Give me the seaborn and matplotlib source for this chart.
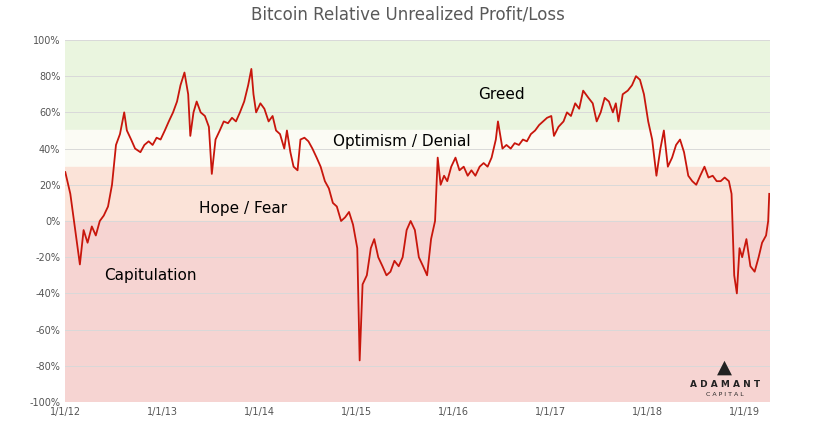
import pandas as pd
import matplotlib.pyplot as plt
import matplotlib.dates as mdates
import seaborn as sns

# semi-monthly readings (percent)
dates = pd.to_datetime([
    "2012-01-01", "2012-01-20", "2012-02-10", "2012-02-25", "2012-03-10", "2012-03-25", "2012-04-10", "2012-04-25",
    "2012-05-10", "2012-05-25", "2012-06-10", "2012-06-25", "2012-07-10", "2012-07-25", "2012-08-10", "2012-08-20",
    "2012-09-05", "2012-09-20", "2012-10-10", "2012-10-25", "2012-11-10", "2012-11-25", "2012-12-10", "2012-12-25",
    "2013-01-10", "2013-01-25", "2013-02-10", "2013-02-25", "2013-03-10", "2013-03-25", "2013-04-08", "2013-04-16",
    "2013-04-28", "2013-05-10", "2013-05-25", "2013-06-10", "2013-06-25", "2013-07-06", "2013-07-20", "2013-08-05",
    "2013-08-20", "2013-09-05", "2013-09-20", "2013-10-05", "2013-10-20", "2013-11-05", "2013-11-20", "2013-12-02",
    "2013-12-10", "2013-12-20", "2014-01-05", "2014-01-20", "2014-02-05", "2014-02-20", "2014-03-05", "2014-03-20",
    "2014-04-05", "2014-04-15", "2014-04-28", "2014-05-10", "2014-05-25", "2014-06-05", "2014-06-20", "2014-07-05",
    "2014-07-20", "2014-08-05", "2014-08-20", "2014-09-05", "2014-09-20", "2014-10-05", "2014-10-20", "2014-11-05",
    "2014-11-20", "2014-12-05", "2014-12-20", "2015-01-05", "2015-01-14", "2015-01-25", "2015-02-10", "2015-02-25",
    "2015-03-10", "2015-03-25", "2015-04-10", "2015-04-25", "2015-05-10", "2015-05-25", "2015-06-10", "2015-06-25",
    "2015-07-10", "2015-07-25", "2015-08-10", "2015-08-25", "2015-09-10", "2015-09-25", "2015-10-10", "2015-10-25",
    "2015-11-04", "2015-11-15", "2015-11-28", "2015-12-10", "2015-12-25", "2016-01-10", "2016-01-25", "2016-02-10",
    "2016-02-25", "2016-03-10", "2016-03-25", "2016-04-10", "2016-04-25", "2016-05-10", "2016-05-25", "2016-06-10",
    "2016-06-18", "2016-07-05", "2016-07-20", "2016-08-05", "2016-08-20", "2016-09-05", "2016-09-20", "2016-10-05",
    "2016-10-20", "2016-11-05", "2016-11-20", "2016-12-05", "2016-12-20", "2017-01-05", "2017-01-15", "2017-02-01",
    "2017-02-20", "2017-03-05", "2017-03-20", "2017-04-05", "2017-04-20", "2017-05-05", "2017-05-25", "2017-06-10",
    "2017-06-25", "2017-07-10", "2017-07-25", "2017-08-10", "2017-08-25", "2017-09-05", "2017-09-15", "2017-10-01",
    "2017-10-20", "2017-11-05", "2017-11-20", "2017-12-05", "2017-12-20", "2018-01-05", "2018-01-20", "2018-02-05",
    "2018-02-20", "2018-03-05", "2018-03-20", "2018-04-05", "2018-04-20", "2018-05-05", "2018-05-20", "2018-06-05",
    "2018-06-20", "2018-07-05", "2018-07-20", "2018-08-05", "2018-08-20", "2018-09-05", "2018-09-20", "2018-10-05",
    "2018-10-20", "2018-11-05", "2018-11-15", "2018-11-25", "2018-12-05", "2018-12-15", "2018-12-25", "2019-01-10",
    "2019-01-25", "2019-02-10", "2019-02-25", "2019-03-10", "2019-03-25", "2019-04-02", "2019-04-06",
])
values = [
    27, 15, -8, -24, -5, -12, -3, -8,
    0, 3, 8, 20, 42, 48, 60, 50,
    45, 40, 38, 42, 44, 42, 46, 45,
    50, 55, 60, 66, 75, 82, 70, 47,
    60, 66, 60, 58, 52, 26, 45, 50,
    55, 54, 57, 55, 60, 66, 75, 84,
    70, 60, 65, 62, 55, 58, 50, 48,
    40, 50, 38, 30, 28, 45, 46, 44,
    40, 35, 30, 22, 18, 10, 8, 0,
    2, 5, -2, -15, -77, -35, -30, -15,
    -10, -20, -25, -30, -28, -22, -25, -20,
    -5, 0, -5, -20, -25, -30, -10, 0,
    35, 20, 25, 22, 30, 35, 28, 30,
    25, 28, 25, 30, 32, 30, 35, 45,
    55, 40, 42, 40, 43, 42, 45, 44,
    48, 50, 53, 55, 57, 58, 47, 52,
    55, 60, 58, 65, 62, 72, 68, 65,
    55, 60, 68, 66, 60, 65, 55, 70,
    72, 75, 80, 78, 70, 55, 45, 25,
    40, 50, 30, 35, 42, 45, 38, 25,
    22, 20, 25, 30, 24, 25, 22, 22,
    24, 22, 15, -30, -40, -15, -20, -10,
    -25, -28, -20, -12, -8, 0, 15,
]
df = pd.DataFrame({"date": dates, "rupl": values})

fig = plt.figure(figsize=(8.16, 4.25), dpi=100)
ax = fig.add_axes([0.08, 0.054, 0.864, 0.852])

# sentiment zones
ax.axhspan(50, 100, color="#eaf5df", zorder=0)
ax.axhspan(30, 50, color="#fbfbf4", zorder=0)
ax.axhspan(0, 30, color="#fbe3d8", zorder=0)
ax.axhspan(-100, 0, color="#f6d4d2", zorder=0)

sns.lineplot(data=df, x="date", y="rupl", color="#c8160c", linewidth=1.3, ax=ax, zorder=3)

ax.set_ylim(-100, 100)
ax.set_yticks(range(-100, 101, 20))
ax.set_yticklabels([f"{v}%" for v in range(-100, 101, 20)], fontsize=7, color="#555555")
ax.set_xlim(pd.Timestamp("2012-01-01"), pd.Timestamp("2019-04-10"))
ticks = pd.to_datetime([f"{y}-01-01" for y in range(2012, 2020)])
ax.set_xticks(ticks)
ax.set_xticklabels([f"1/1/{y % 100}" for y in range(2012, 2020)], fontsize=7, color="#555555")
ax.grid(axis="y", color="#d9d9d9", linewidth=0.7, zorder=1)
ax.grid(axis="x", visible=False)
ax.set_axisbelow(False)
for s in ax.spines.values():
    s.set_visible(False)
ax.tick_params(length=0)
ax.set_xlabel("")
ax.set_ylabel("")

fs = 11
ax.text(pd.Timestamp("2016-07-01"), 70, "Greed", fontsize=fs, ha="center", va="center")
ax.text(pd.Timestamp("2015-06-20"), 44, "Optimism / Denial", fontsize=fs, ha="center", va="center")
ax.text(pd.Timestamp("2013-11-01"), 7, "Hope / Fear", fontsize=fs, ha="center", va="center")
ax.text(pd.Timestamp("2012-11-15"), -30, "Capitulation", fontsize=fs, ha="center", va="center")

fig.text(0.5, 0.965, "Bitcoin Relative Unrealized Profit/Loss", fontsize=12, color="#595959",
         ha="center", va="center")
fig.text(0.888, 0.135, "▲", fontsize=14, color="#222222", ha="center", va="center")
fig.text(0.888, 0.095, "A D A M A N T", fontsize=6.5, color="#222222", ha="center", va="center", weight="bold")
fig.text(0.888, 0.072, "C A P I T A L", fontsize=4.5, color="#222222", ha="center", va="center")

fig.savefig("out.png", dpi=100)
